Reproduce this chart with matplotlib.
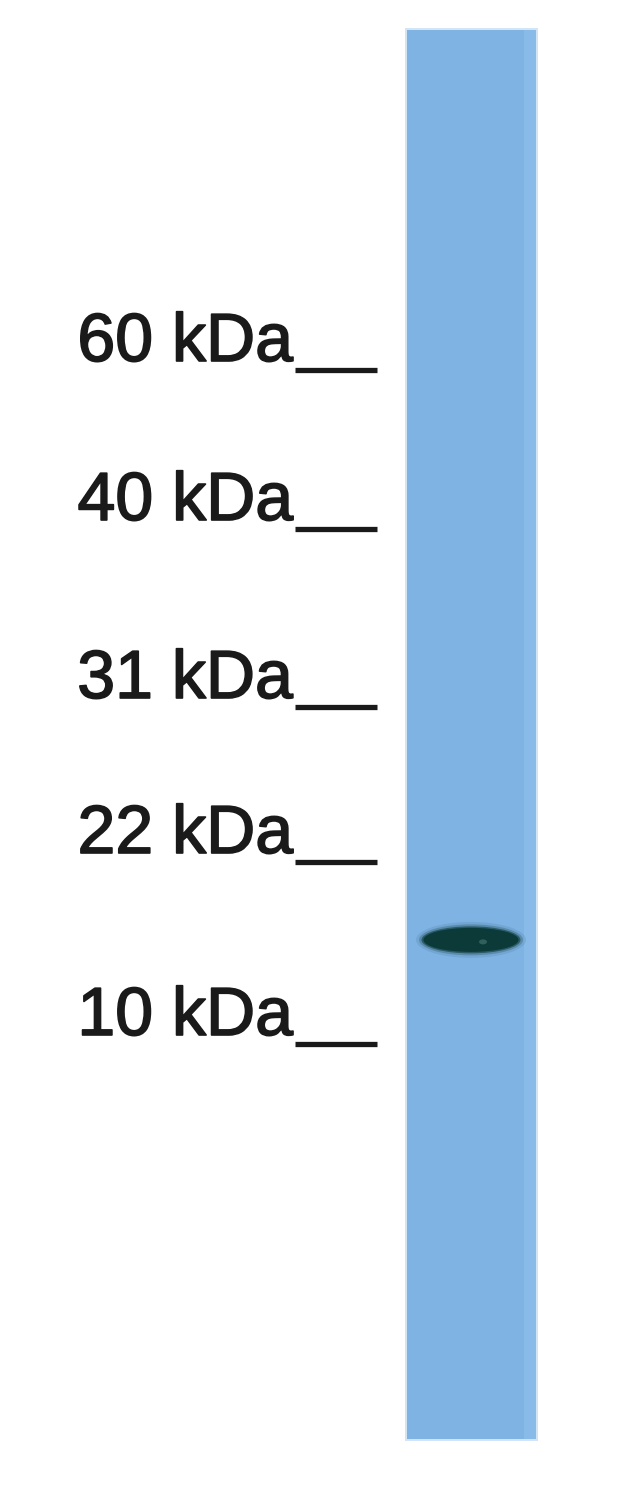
import numpy as np
import matplotlib.pyplot as plt
import matplotlib.patheffects as pe
from matplotlib.patches import Rectangle, Ellipse

# marker ladder (kDa) and where each tick sits on the membrane (pixels from top)
marker_kda = [60, 40, 31, 22, 10]
marker_y = [370, 529, 707, 862, 1044]
marker_labels = ['60 kDa', '40 kDa', '31 kDa', '22 kDa', '10 kDa']

# detected band
band_kda = [15.7]

W, H = 640, 1505
fig = plt.figure(figsize=(W / 100, H / 100), dpi=100)
ax = fig.add_axes([0, 0, 1, 1])
ax.set_xlim(0, W)
ax.set_ylim(H, 0)
ax.axis('off')

# lane
lane_x0, lane_x1, lane_y0, lane_y1 = 407, 536, 30, 1439
ax.add_patch(Rectangle((lane_x0 - 2, lane_y0 - 2), lane_x1 - lane_x0 + 4,
                       lane_y1 - lane_y0 + 4, color='#d3e4f4', lw=0))
ax.add_patch(Rectangle((lane_x0, lane_y0), lane_x1 - lane_x0,
                       lane_y1 - lane_y0, color='#7fb3e4', lw=0))
ax.add_patch(Rectangle((lane_x1 - 12, lane_y0), 12, lane_y1 - lane_y0,
                       color='#88bbe8', lw=0))

# ladder labels and ticks
for lab, y in zip(marker_labels, marker_y):
    ax.text(293, y - 9, lab, ha='right', va='baseline', fontsize=49,
            family=['Liberation Sans', 'DejaVu Sans'], color='#1a1a1a',
            path_effects=[pe.withStroke(linewidth=1.2, foreground='#1a1a1a')])
ax.hlines(marker_y, 295, 377, color='#1a1a1a', lw=3.8)

# band position from log-linear ladder interpolation
logk = np.log(marker_kda)[::-1]
ys = np.array(marker_y)[::-1]
for k in band_kda:
    by = np.interp(np.log(k), logk, ys)
    bx = 471
    for w, h, a in [(110, 36, 0.10), (104, 31, 0.25), (99, 27, 0.6), (95, 24, 1.0)]:
        ax.add_patch(Ellipse((bx, by), w, h, color='#0b3a38', alpha=a, lw=0))
    ax.add_patch(Ellipse((bx + 12, by + 2), 8, 5, color='#4a7a74', alpha=0.6, lw=0))

fig.savefig('out.png', dpi=100)
